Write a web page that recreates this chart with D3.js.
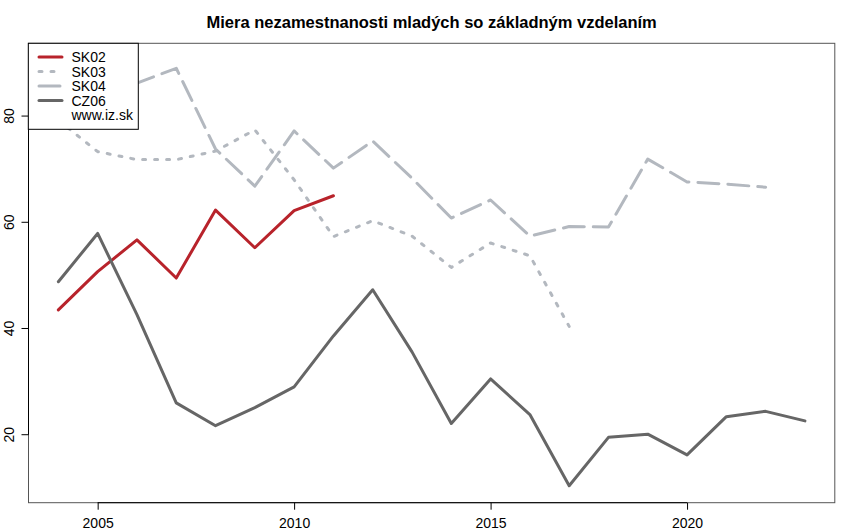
<!DOCTYPE html>
<html><head><meta charset="utf-8">
<script src="https://cdn.jsdelivr.net/npm/d3@7"></script>
<style>body{margin:0;background:#fff}svg{display:block}text{font-family:"Liberation Sans",Arial,sans-serif}</style>
</head><body>
<script>
const years = d3.range(2004, 2024);
const SK02 = [43.5,50.7,56.7,49.5,62.3,55.2,62.2,65.0,null,null,null,null,null,null,null,null,null,null,null,null];
const SK03 = [79.2,73.3,71.8,71.8,73.4,77.4,68.0,57.3,60.3,57.4,51.5,56.1,53.7,40.4,null,null,null,null,null,null];
const SK04 = [90.5,84.0,86.2,89.0,73.8,66.8,77.2,70.2,75.3,68.3,60.8,64.2,57.4,59.2,59.1,71.9,67.6,67.2,66.6,null];
const CZ06 = [48.8,57.9,42.6,26.0,21.7,25.1,29.0,38.6,47.3,35.6,22.1,30.5,23.8,10.4,19.5,20.1,16.2,23.4,24.4,22.6];
const xTicks = [2005, 2010, 2015, 2020];
const yTicks = [20, 40, 60, 80];
const title = "Miera nezamestnanosti mladých so základným vzdelaním";
const series = [
  {name:"SK02", values:SK02, color:"#B8232B", dash:null},
  {name:"SK03", values:SK03, color:"#B3B8BF", dash:"3,9"},
  {name:"SK04", values:SK04, color:"#B3B8BF", dash:"21,9"},
  {name:"CZ06", values:CZ06, color:"#666666", dash:null}
];
const W=850,H=532;
const L=28.5,R=834.8,T=43.3,B=502.7;
const svg=d3.select("body").append("svg").attr("width",W).attr("height",H);
const xr=d3.extent(years), xp=(xr[1]-xr[0])*0.04;
const x=d3.scaleLinear().domain([xr[0]-xp,xr[1]+xp]).range([L,R]);
const all=series.flatMap(s=>s.values).filter(v=>v!=null);
const yr=d3.extent(all), yp=(yr[1]-yr[0])*0.04;
const y=d3.scaleLinear().domain([yr[0]-yp,yr[1]+yp]).range([B,T]);

const g=svg.append("g");
series.forEach(s=>{
  const line=d3.line().defined(d=>d[1]!=null).x(d=>x(d[0])).y(d=>y(d[1]));
  g.append("path").datum(years.map((yy,i)=>[yy,s.values[i]]))
   .attr("d",line).attr("fill","none").attr("stroke",s.color).attr("stroke-width",3)
   .attr("stroke-linecap","round").attr("stroke-linejoin","round")
   .attr("stroke-dasharray",s.dash);
});
// box
svg.append("rect").attr("x",L).attr("y",T).attr("width",R-L).attr("height",B-T)
  .attr("fill","none").attr("stroke","#555").attr("stroke-width",1);
// x axis
const xa=svg.append("g").attr("transform",`translate(0,${B})`)
  .call(d3.axisBottom(x).tickValues(xTicks).tickFormat(d3.format("d")).tickSize(7).tickPadding(8));
xa.select(".domain").attr("d",`M${x(xTicks[0])},0H${x(xTicks[xTicks.length-1])}`).attr("stroke","#000");
xa.selectAll("text").attr("font-size",14).attr("fill","#000").attr("font-family","Liberation Sans, Arial, sans-serif");
// y axis
const ya=svg.append("g").attr("transform",`translate(${L},0)`)
  .call(d3.axisLeft(y).tickValues(yTicks).tickSize(7).tickFormat(d3.format("d")));
ya.select(".domain").attr("d",`M0,${y(yTicks[0])}V${y(yTicks[yTicks.length-1])}`).attr("stroke","#000");
ya.selectAll("text").attr("font-size",14).attr("fill","#000").attr("font-family","Liberation Sans, Arial, sans-serif")
  .attr("text-anchor","middle").attr("x",null).attr("dy",null)
  .attr("transform",function(d){return `translate(-15,${y(d)}) rotate(-90)`;}).attr("y",0);
ya.selectAll(".tick").attr("transform",null);
ya.selectAll(".tick line").attr("y1",d=>y(d)).attr("y2",d=>y(d));
// title
svg.append("text").attr("x",(L+R)/2).attr("y",27.5).attr("text-anchor","middle")
  .attr("font-weight","bold").attr("font-size",16.5).text(title);
// legend
const lg=svg.append("g");
lg.append("rect").attr("x",28.3).attr("y",43.3).attr("width",110).attr("height",86).attr("fill","#fff").attr("stroke","#000");
const rows=[...series.map(s=>({name:s.name,color:s.color,dash:s.dash})),{name:"www.iz.sk"}];
rows.forEach((r,i)=>{
  const yy=57+i*14.5;
  if(r.color) lg.append("line").attr("x1",39).attr("x2",62).attr("y1",yy).attr("y2",yy)
    .attr("stroke",r.color).attr("stroke-width",3).attr("stroke-dasharray",r.dash).attr("stroke-linecap","round");
  lg.append("text").attr("x",71.5).attr("y",yy+5).attr("font-size",14).text(r.name);
});
</script>
</body></html>
